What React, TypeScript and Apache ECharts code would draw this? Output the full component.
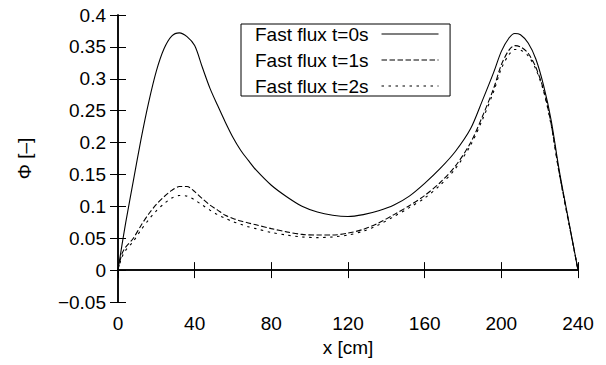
import React, { useEffect, useRef } from "react";
import * as echarts from "echarts";

const xValues = [0, 2, 4, 8, 12, 16, 20, 24, 28, 32, 36, 40, 44, 48, 52, 56, 60, 64, 68, 72, 80, 88, 96, 104, 112, 120, 128, 136, 144, 152, 160, 168, 176, 184, 190, 196, 200, 204, 207, 210, 214, 218, 222, 226, 230, 234, 237, 240];

const flux0 = [0, 0.038, 0.074, 0.14, 0.205, 0.263, 0.312, 0.347, 0.367, 0.372, 0.366, 0.352, 0.318, 0.285, 0.258, 0.232, 0.208, 0.188, 0.172, 0.157, 0.133, 0.115, 0.1, 0.091, 0.086, 0.084, 0.087, 0.093, 0.102, 0.116, 0.136, 0.159, 0.186, 0.222, 0.265, 0.31, 0.343, 0.364, 0.371, 0.369, 0.356, 0.331, 0.29, 0.235, 0.16, 0.095, 0.048, 0];

const flux1 = [0, 0.025, 0.036, 0.05, 0.07, 0.088, 0.103, 0.115, 0.125, 0.131, 0.131, 0.123, 0.112, 0.102, 0.094, 0.086, 0.081, 0.077, 0.074, 0.071, 0.065, 0.06, 0.056, 0.055, 0.055, 0.058, 0.064, 0.074, 0.087, 0.101, 0.117, 0.137, 0.163, 0.2, 0.24, 0.285, 0.322, 0.345, 0.352, 0.35, 0.34, 0.318, 0.283, 0.229, 0.156, 0.093, 0.047, 0];

const flux2 = [0, 0.02, 0.031, 0.045, 0.063, 0.079, 0.093, 0.104, 0.113, 0.117, 0.116, 0.11, 0.102, 0.094, 0.087, 0.081, 0.076, 0.072, 0.068, 0.065, 0.059, 0.055, 0.052, 0.051, 0.052, 0.055, 0.061, 0.071, 0.084, 0.098, 0.113, 0.133, 0.159, 0.196, 0.235, 0.28, 0.316, 0.338, 0.346, 0.345, 0.336, 0.315, 0.281, 0.227, 0.155, 0.092, 0.046, 0];

const seriesNames = ["Fast flux t=0s", "Fast flux t=1s", "Fast flux t=2s"];
const xTicks = { min: 0, max: 240, interval: 40 };
const yTicks = { min: -0.05, max: 0.4, interval: 0.05 };

const FONT = "Liberation Sans, Arial, sans-serif";
const FS = 19;

function pairs(ys: number[]) {
  return xValues.map((x, i) => [x, ys[i]]);
}

export default function App() {
  const ref = useRef<HTMLDivElement>(null);
  useEffect(() => {
    if (!ref.current) return;
    const chart = echarts.init(ref.current, undefined, { renderer: "svg" });
    const axisLine = { show: true, lineStyle: { color: "#000", width: 1.5 } };
    const tick = { show: true, inside: true, length: 8, lineStyle: { color: "#000", width: 1 } };
    const fmtY = (v: number) => {
      const s = parseFloat(v.toFixed(2)).toString();
      return s.replace("-", "\u2212");
    };
    const dashTypes: any[] = ["solid", [5.5, 2.5], [2.5, 4.5]];
    const data = [flux0, flux1, flux2];
    chart.setOption({
      animation: false,
      backgroundColor: "#fff",
      textStyle: { fontFamily: FONT },
      grid: { left: 118, right: 28, top: 15, bottom: 63, containLabel: false },
      legend: {
        show: true,
        orient: "vertical",
        left: 241,
        top: 24,
        align: "right",
        itemWidth: 57,
        itemHeight: 14,
        itemGap: 6,
        padding: [0, 11, 0, 14],
        borderColor: "#000",
        borderWidth: 1,
        borderRadius: 0,
        backgroundColor: "#fff",
        data: seriesNames,
        itemStyle: { opacity: 0, color: "transparent", borderColor: "transparent", borderWidth: 0 },
        lineStyle: { width: 1.1, color: "#000" },
        textStyle: { fontFamily: FONT, fontSize: FS, color: "#000", lineHeight: 20, padding: [0, 8, 0, 0] },
      },
      xAxis: [
        {
          type: "value",
          min: xTicks.min,
          max: xTicks.max,
          interval: xTicks.interval,
          position: "bottom",
          name: "x [cm]",
          nameLocation: "middle",
          nameGap: 35,
          nameTextStyle: { fontFamily: FONT, fontSize: FS, color: "#000" },
          axisLine,
          axisTick: tick,
          splitLine: { show: false },
          axisLabel: { fontFamily: FONT, fontSize: FS, color: "#000", margin: 12 },
        },
        {
          type: "value",
          min: xTicks.min,
          max: xTicks.max,
          interval: xTicks.interval,
          position: "top",
          axisLine,
          axisTick: tick,
          splitLine: { show: false },
          axisLabel: { show: false },
        },
      ],
      yAxis: [
        {
          type: "value",
          min: yTicks.min,
          max: yTicks.max,
          interval: yTicks.interval,
          position: "left",
          name: "\u03A6 [\u2013]",
          nameLocation: "middle",
          nameGap: 84,
          nameRotate: 90,
          nameTextStyle: { fontFamily: FONT, fontSize: FS, color: "#000" },
          axisLine,
          axisTick: tick,
          splitLine: { show: false },
          axisLabel: { fontFamily: FONT, fontSize: FS, color: "#000", margin: 12, formatter: fmtY },
        },
        {
          type: "value",
          min: yTicks.min,
          max: yTicks.max,
          interval: yTicks.interval,
          position: "right",
          axisLine,
          axisTick: tick,
          splitLine: { show: false },
          axisLabel: { show: false },
        },
      ],
      series: seriesNames.map((name, i) => ({
        name,
        type: "line",
        xAxisIndex: 0,
        yAxisIndex: 0,
        data: pairs(data[i]),
        smooth: 0.3,
        symbol: "none",
        showSymbol: false,
        lineStyle: { color: "#000", width: 1.1, type: dashTypes[i] },
        itemStyle: { color: "#000" },
      })),
    });
    return () => chart.dispose();
  }, []);
  return (
    <div
      ref={ref}
      style={{ position: "fixed", left: 0, top: 0, width: 606, height: 365, background: "#fff" }}
    />
  );
}
